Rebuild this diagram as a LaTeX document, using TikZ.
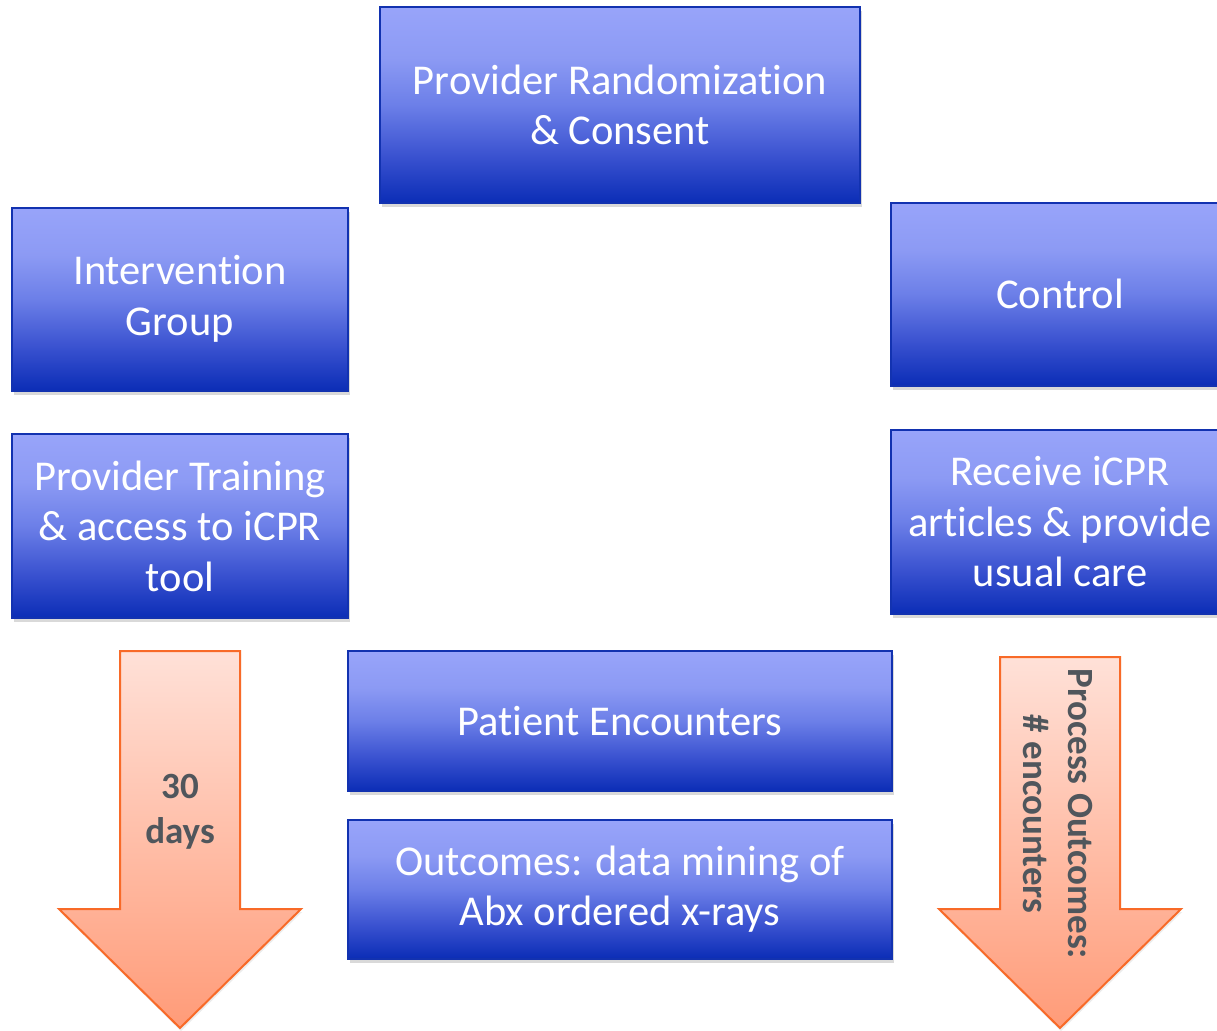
\documentclass[tikz,border=0pt]{standalone}
\usepackage{fontspec}
\setmainfont[Ligatures={NoCommon}]{Carlito}
\usetikzlibrary{positioning, shadows, calc}

\definecolor{boxlight}{HTML}{98A4FA}
\definecolor{boxhigh}{HTML}{8C9AF4}
\definecolor{boxmid}{HTML}{6C7FE8}
\definecolor{boxlow}{HTML}{3A52D0}
\definecolor{boxdark}{HTML}{0B2DB6}
\definecolor{boxline}{HTML}{1232B0}
\definecolor{arrowlight}{HTML}{FFE1D8}
\definecolor{arrowdark}{HTML}{FF9B78}
\definecolor{arrowline}{HTML}{F86A28}
\definecolor{arrowink}{HTML}{50565C}

\pgfdeclareverticalshading{boxfade}{100bp}{color(0bp)=(boxdark); color(25bp)=(boxdark); color(37bp)=(boxlow); color(50bp)=(boxmid); color(62bp)=(boxhigh); color(75bp)=(boxlight); color(100bp)=(boxlight)}
\pgfdeclareverticalshading{arrowfade}{100bp}{color(0bp)=(arrowdark); color(25bp)=(arrowdark); color(75bp)=(arrowlight); color(100bp)=(arrowlight)}

\tikzset{
  stage/.style={draw=boxline, line width=2pt, shading=boxfade, text=white, align=center,
    inner sep=0pt, font=\fontsize{42.5}{50.5}\selectfont,
    drop shadow={shadow xshift=1.5pt, shadow yshift=-4pt, opacity=0.3}},
  timearrow/.style={draw=arrowline, line width=2pt, shading=arrowfade, line join=miter,
    drop shadow={shadow xshift=1pt, shadow yshift=-3pt, opacity=0.15}},
  arrowlabel/.style={text=arrowink, align=center, font=\bfseries\fontsize{37}{45}\selectfont}
}

\begin{document}
\begin{tikzpicture}[x=1pt, y=-1pt]
  \useasboundingbox (0,0) rectangle (1217,1030);

  % study flow boxes
  \node[stage, minimum width=480pt, minimum height=196pt] (rand) at (620,105) {Provider Randomization\\\& Consent};
  \node[stage, minimum width=336pt, minimum height=183pt] (interv) at (180,299) {Intervention\\Group};
  \node[stage, minimum width=338pt, minimum height=183pt] (control) at (1060,294) {Control};
  \node[stage, minimum width=336pt, minimum height=184pt] (training) at (180,526) {Provider Training\\\& access to iCPR\\tool};
  \node[stage, minimum width=338pt, minimum height=184pt] (usual) at (1060,522) {Receive iCPR\\articles \& provide\\usual care};
  \node[stage, minimum width=544pt, minimum height=140pt] (encounters) at (620,721) {Patient Encounters};
  \node[stage, minimum width=544pt, minimum height=139pt] (outcomes) at (620,889) {Outcomes: data mining of\\Abx ordered x-rays};

  % down arrows
  \foreach \x/\top in {180/651, 1060/657} {
    \draw[timearrow] (\x-60,\top) -- (\x+60,\top) -- (\x+60,909) -- (\x+121,909)
      -- (\x,1028) -- (\x-121,909) -- (\x-60,909) -- cycle;
  }
  \node[arrowlabel] (days) at (180,812) {30\\days};
  \node[arrowlabel, rotate=-90] (process) at (1058,814) {Process Outcomes:\\\# encounters};
\end{tikzpicture}
\end{document}
